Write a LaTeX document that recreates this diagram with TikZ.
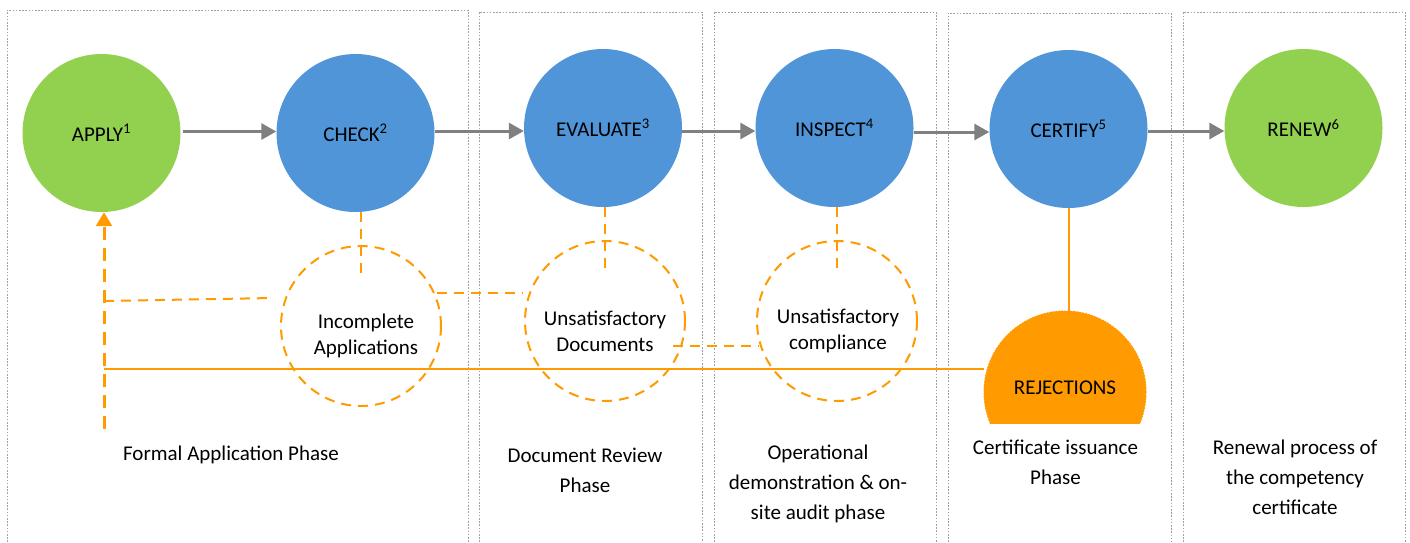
\documentclass[tikz,border=0pt]{standalone}
\usepackage{fontspec}
\setmainfont{Carlito}
\usetikzlibrary{arrows.meta,calc}
\definecolor{stagegreen}{HTML}{92D050}
\definecolor{stageblue}{HTML}{4F95D8}
\definecolor{rejorange}{HTML}{FF9A00}
\definecolor{flowgray}{HTML}{808080}
\definecolor{framegray}{HTML}{A0A0A0}

\begin{document}
\begin{tikzpicture}[x=1pt,y=-1pt,
  stage/.style={circle,minimum size=158pt,inner sep=0pt,font=\fontsize{21}{26}\selectfont},
  greenstage/.style={stage,fill=stagegreen},
  bluestage/.style={stage,fill=stageblue},
  issue/.style={circle,minimum size=160pt,inner sep=0pt,draw=rejorange,line width=2pt,dash pattern=on 10pt off 7pt},
  issuetext/.style={align=center,inner sep=0pt,font=\fontsize{21}{26}\selectfont},
  phasetext/.style={align=center,inner sep=0pt,font=\fontsize{21}{30}\selectfont},
  phaseframe/.style={draw=framegray,line width=0.9pt,dash pattern=on 1.6pt off 1.6pt},
  flow/.style={draw=flowgray,line width=3pt,-{Triangle[length=15pt,width=16pt]}},
  feedback/.style={draw=rejorange,line width=2pt,dash pattern=on 10pt off 7pt},
  returnarrow/.style={draw=rejorange,line width=3pt,dash pattern=on 13pt off 8pt,-{Triangle[length=14pt,width=16pt]}},
  reject/.style={draw=rejorange,line width=2pt},
]
\useasboundingbox (0,0) rectangle (1410,542);

% phase frames, open at the bottom
\draw[phaseframe] (7,542) |- (468,10) -- (468,542);
\draw[phaseframe] (479,542) |- (702,12) -- (702,542);
\draw[phaseframe] (714,542) |- (936,12) -- (936,542);
\draw[phaseframe] (948,542) |- (1171,13) -- (1171,542);
\draw[phaseframe] (1183,542) |- (1405,12) -- (1405,542);

% process stages
\node[greenstage] (apply)    at (101.5,133) {APPLY\textsuperscript{1}};
\node[bluestage]  (check)    at (355.5,133) {CHECK\textsuperscript{2}};
\node[bluestage]  (evaluate) at (603,128)   {EVALUATE\textsuperscript{3}};
\node[bluestage]  (inspect)  at (834.5,128) {INSPECT\textsuperscript{4}};
\node[bluestage]  (certify)  at (1068.5,129) {CERTIFY\textsuperscript{5}};
\node[greenstage] (renew)    at (1303.5,128) {RENEW\textsuperscript{6}};

% main flow
\draw[flow] ($(apply.east)+(2,-1.5)$) -- ($(apply.east -| check.west)+(0,-1.5)$);
\draw[flow] ($(check.east)+(0,-2)$) -- ($(check.east -| evaluate.west)+(0,-2)$);
\draw[flow] ($(evaluate.east)+(0,3)$) -- ($(evaluate.east -| inspect.west)+(0,3)$);
\draw[flow] ($(inspect.east)+(0,4)$) -- ($(inspect.east -| certify.west)+(0,4)$);
\draw[flow] ($(certify.east)+(0,2)$) -- ($(certify.east -| renew.west)+(0,2)$);

% failure outcomes
\node[issue] (inc)   at (361,326) {};
\node[issue] (udoc)  at (605,321) {};
\node[issue] (ucomp) at (837,321) {};
\node[issuetext] (inctext)   at (366,336) {Incomplete\\Applications};
\node[issuetext] (udoctext)  at (605,331) {Unsatisfactory\\Documents};
\node[issuetext] (ucomptext) at (838,331) {Unsatisfactory\\compliance};

\draw[feedback] (inc.center |- check.south) -- ++(0,63);
\draw[feedback] (udoc.center |- evaluate.south) -- ++(0,64);
\draw[feedback] (ucomp.center |- inspect.south) -- ++(0,64);

% rejections
\begin{scope}
  \clip (900,250) rectangle (1200,423);
  \node[circle,minimum size=162pt,inner sep=0pt,fill=rejorange,draw=rejorange,
        line width=1pt,dash pattern=on 2pt off 1pt] (rej) at (1065,392) {};
\end{scope}
\node[inner sep=0pt,font=\fontsize{21}{26}\selectfont] (rejtext) at (1065,388) {REJECTIONS};
\draw[reject] (certify.south) -- (certify.south |- rej.north);

% return paths to the application
\coordinate (base)  at (104,429);
\coordinate (jinc)  at (104,301);
\coordinate (incL)  at (273,298);
\coordinate (incR)  at (437,293);
\coordinate (udocL) at (523,293);
\coordinate (udocR) at (673,346);
\coordinate (ucompL) at (759,346);
\coordinate (jrej)  at (104,369);

\draw[returnarrow] (base) -- (base |- apply.south);
\draw[feedback] (jinc) -- (incL);
\draw[feedback] (incR) -- (udocL);
\draw[feedback] (udocR) -- (ucompL);
\draw[reject] (jrej) -- (jrej -| rej.west);

% phase captions
\node[phasetext] (ph1) at (231,455) {Formal Application Phase};
\node[phasetext] (ph2) at (585,470) {Document Review\\Phase};
\node[phasetext] (ph3) at (818,484) {Operational\\demonstration \& on-\\site audit phase};
\node[phasetext] (ph4) at (1055.5,462) {Certificate issuance\\Phase};
\node[phasetext] (ph5) at (1295,477) {Renewal process of\\the competency\\certificate};
\end{tikzpicture}
\end{document}
